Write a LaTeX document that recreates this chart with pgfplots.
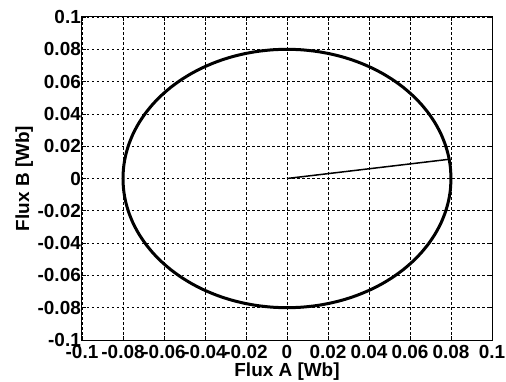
\documentclass[border=0pt]{standalone}
\usepackage{fontspec}
\setmainfont{Liberation Sans}
\usepackage{pgfplots}
\pgfplotsset{compat=1.18}

\begin{document}
\begin{tikzpicture}
% fixed page frame around the axis box
\path[use as bounding box] (-82bp,-42bp) rectangle (424bp,340bp);
\begin{axis}[
  scale only axis,
  width=410bp, height=323bp,
  xmin=-0.1, xmax=0.1, ymin=-0.1, ymax=0.1,
  xtick={-0.1,-0.08,-0.06,-0.04,-0.02,0,0.02,0.04,0.06,0.08,0.1},
  ytick={-0.1,-0.08,-0.06,-0.04,-0.02,0,0.02,0.04,0.06,0.08,0.1},
  xticklabels={-0.1,-0.08,-0.06,-0.04,-0.02,0,0.02,0.04,0.06,0.08,0.1},
  yticklabels={-0.1,-0.08,-0.06,-0.04,-0.02,0,0.02,0.04,0.06,0.08,0.1},
  tick align=inside,
  major tick length=4bp,
  tick style={black, line width=0.6bp},
  axis line style={black, line width=1bp},
  grid=major,
  major grid style={black, line width=0.6bp, dash pattern=on 2.5bp off 2.5bp},
  ticklabel style={font=\bfseries\fontsize{19}{19}\selectfont},
  xticklabel style={yshift=-2bp, inner xsep=0pt},
  yticklabel style={xshift=1bp, inner xsep=2pt},
  label style={font=\bfseries\fontsize{19}{19}\selectfont},
  xlabel={Flux A [Wb]},
  ylabel={Flux B [Wb]},
  xlabel style={yshift=3bp},
  ylabel style={yshift=-1bp},
  /pgf/number format/assume math mode=true,
]
% flux locus
\addplot[black, line width=3bp, smooth] coordinates {
(0.08000,0.00000) (0.07970,0.00697) (0.07878,0.01389) (0.07727,0.02071) (0.07518,0.02736) (0.07250,0.03381) (0.06928,0.04000) (0.06553,0.04589) (0.06128,0.05142) (0.05657,0.05657) (0.05142,0.06128) (0.04589,0.06553) (0.04000,0.06928) (0.03381,0.07250) (0.02736,0.07518) (0.02071,0.07727) (0.01389,0.07878) (0.00697,0.07970) (0.00000,0.08000)
(-0.00697,0.07970) (-0.01389,0.07878) (-0.02071,0.07727) (-0.02736,0.07518) (-0.03381,0.07250) (-0.04000,0.06928) (-0.04589,0.06553) (-0.05142,0.06128) (-0.05657,0.05657) (-0.06128,0.05142) (-0.06553,0.04589) (-0.06928,0.04000) (-0.07250,0.03381) (-0.07518,0.02736) (-0.07727,0.02071) (-0.07878,0.01389) (-0.07970,0.00697) (-0.08000,0.00000)
(-0.07970,-0.00697) (-0.07878,-0.01389) (-0.07727,-0.02071) (-0.07518,-0.02736) (-0.07250,-0.03381) (-0.06928,-0.04000) (-0.06553,-0.04589) (-0.06128,-0.05142) (-0.05657,-0.05657) (-0.05142,-0.06128) (-0.04589,-0.06553) (-0.04000,-0.06928) (-0.03381,-0.07250) (-0.02736,-0.07518) (-0.02071,-0.07727) (-0.01389,-0.07878) (-0.00697,-0.07970) (0.00000,-0.08000)
(0.00697,-0.07970) (0.01389,-0.07878) (0.02071,-0.07727) (0.02736,-0.07518) (0.03381,-0.07250) (0.04000,-0.06928) (0.04589,-0.06553) (0.05142,-0.06128) (0.05657,-0.05657) (0.06128,-0.05142) (0.06553,-0.04589) (0.06928,-0.04000) (0.07250,-0.03381) (0.07518,-0.02736) (0.07727,-0.02071) (0.07878,-0.01389) (0.07970,-0.00697) (0.08000,0.00000)
};
% flux vector
\addplot[black, line width=1.5bp] coordinates {(0,0) (0.0791,0.0119)};
\end{axis}
\end{tikzpicture}
\end{document}
